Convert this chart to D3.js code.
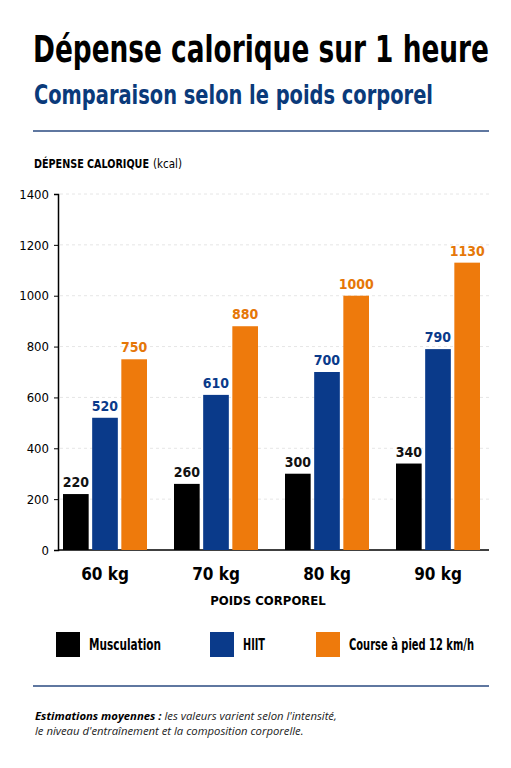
<!DOCTYPE html>
<html><head><meta charset="utf-8">
<script src="https://cdn.jsdelivr.net/npm/d3@7"></script>
<style>body{margin:0;background:#fff}svg{display:block}</style>
</head><body>
<svg id="chart" width="511" height="768"></svg>
<script>
const weights = ["60 kg", "70 kg", "80 kg", "90 kg"];
const series = ["Musculation", "HIIT", "Course à pied 12 km/h"];
const musculation = [220, 260, 300, 340];
const hiit = [520, 610, 700, 790];
const course = [750, 880, 1000, 1130];
const yTicks = [0, 200, 400, 600, 800, 1000, 1200, 1400];
const colors = ["#000000", "#0a3a8a", "#ee7a0c"];
const labelColors = ["#111", "#0a3a8a", "#e57708"];

const values = [musculation, hiit, course];
const narrow = "'DejaVu Sans Condensed', sans-serif";
const svg = d3.select("#chart");

function squeeze(sel, w) {
  return sel.attr("textLength", w).attr("lengthAdjust", "spacingAndGlyphs");
}

squeeze(svg.append("text").attr("x", 33).attr("y", 62).attr("font-family", narrow)
  .attr("font-weight", 700).attr("font-size", 38).text("Dépense calorique sur 1 heure"), 456);
squeeze(svg.append("text").attr("x", 34).attr("y", 104).attr("font-family", narrow)
  .attr("font-weight", 700).attr("font-size", 26).attr("fill", "#0a3a7a")
  .text("Comparaison selon le poids corporel"), 399);
svg.append("line").attr("x1", 33).attr("x2", 489).attr("y1", 131).attr("y2", 131)
  .attr("stroke", "#2a4a80").attr("stroke-width", 1.5);

squeeze(svg.append("text").attr("x", 34).attr("y", 168).attr("font-family", narrow)
  .attr("font-size", 13).attr("font-weight", 700).text("DÉPENSE CALORIQUE"), 115);
svg.append("text").attr("x", 153).attr("y", 168).attr("font-family", narrow)
  .attr("font-size", 11.5).text("(kcal)");

const x0 = d3.scaleBand().domain(weights).range([49.5, 493.5]);
const x1 = d3.scaleBand().domain(series)
  .range([x0.bandwidth() / 2 - 42, x0.bandwidth() / 2 + 42]).paddingInner(0.12);
const y = d3.scaleLinear().domain([0, 1400]).range([550, 194]);

svg.append("g").selectAll("line").data(yTicks.slice(1)).join("line")
  .attr("x1", 60).attr("x2", 489).attr("y1", d => y(d)).attr("y2", d => y(d))
  .attr("stroke", "#e6e6e6").attr("stroke-dasharray", "3,3");

const ax = svg.append("g").attr("transform", "translate(58,0)")
  .call(d3.axisLeft(y).tickValues(yTicks).tickFormat(d3.format("d")).tickSize(4).tickPadding(5));
ax.select(".domain").attr("stroke", "#000").attr("stroke-width", 1.5);
ax.selectAll("text").attr("font-family", narrow).attr("font-size", 13).attr("fill", "#000");

svg.append("line").attr("x1", 58).attr("x2", 489).attr("y1", 550).attr("y2", 550)
  .attr("stroke", "#000").attr("stroke-width", 1.5);

const g = svg.append("g").selectAll("g").data(weights).join("g")
  .attr("transform", d => `translate(${x0(d)},0)`);
const cells = (d, i) => series.map((s, j) => ({ s, j, v: values[j][i] }));
g.selectAll("rect").data(cells).join("rect")
  .attr("x", d => x1(d.s)).attr("width", x1.bandwidth())
  .attr("y", d => y(d.v)).attr("height", d => 550 - y(d.v)).attr("fill", d => colors[d.j]);
g.selectAll("text").data(cells).join("text")
  .attr("x", d => x1(d.s) + x1.bandwidth() / 2).attr("y", d => y(d.v) - 7)
  .attr("text-anchor", "middle").attr("font-family", narrow).attr("font-weight", 700)
  .attr("font-size", 14).attr("fill", d => labelColors[d.j]).text(d => d.v);

svg.append("g").selectAll("text").data(weights).join("text")
  .attr("x", d => x0(d) + x0.bandwidth() / 2).attr("y", 580).attr("text-anchor", "middle")
  .attr("font-family", narrow).attr("font-weight", 700).attr("font-size", 17).text(d => d);
svg.append("text").attr("x", 268).attr("y", 605).attr("text-anchor", "middle")
  .attr("font-family", narrow).attr("font-weight", 700).attr("font-size", 13).text("POIDS CORPOREL");

const legX = [56, 210, 316];
const legW = [72, 22, 125];
const lg = svg.append("g").selectAll("g").data(series).join("g")
  .attr("transform", (d, i) => `translate(${legX[i]},632)`);
lg.append("rect").attr("width", 24).attr("height", 25).attr("fill", (d, i) => colors[i]);
lg.append("text").attr("x", 33).attr("y", 18).attr("font-family", narrow).attr("font-weight", 700)
  .attr("font-size", 15).attr("textLength", (d, i) => legW[i]).attr("lengthAdjust", "spacingAndGlyphs")
  .text(d => d);

svg.append("line").attr("x1", 33).attr("x2", 489).attr("y1", 686).attr("y2", 686)
  .attr("stroke", "#2a4a80").attr("stroke-width", 1.5);
const n = svg.append("text").attr("x", 35).attr("y", 720).attr("font-family", "'Open Sans', sans-serif")
  .attr("font-size", 11.3).attr("font-style", "italic").attr("fill", "#222");
n.append("tspan").attr("font-weight", 700).attr("fill", "#000").text("Estimations moyennes : ");
n.append("tspan").text("les valeurs varient selon l'intensité,");
svg.append("text").attr("x", 35).attr("y", 735).attr("font-family", "'Open Sans', sans-serif")
  .attr("font-size", 11.3).attr("font-style", "italic").attr("fill", "#222")
  .text("le niveau d'entraînement et la composition corporelle.");
</script>
</body></html>
